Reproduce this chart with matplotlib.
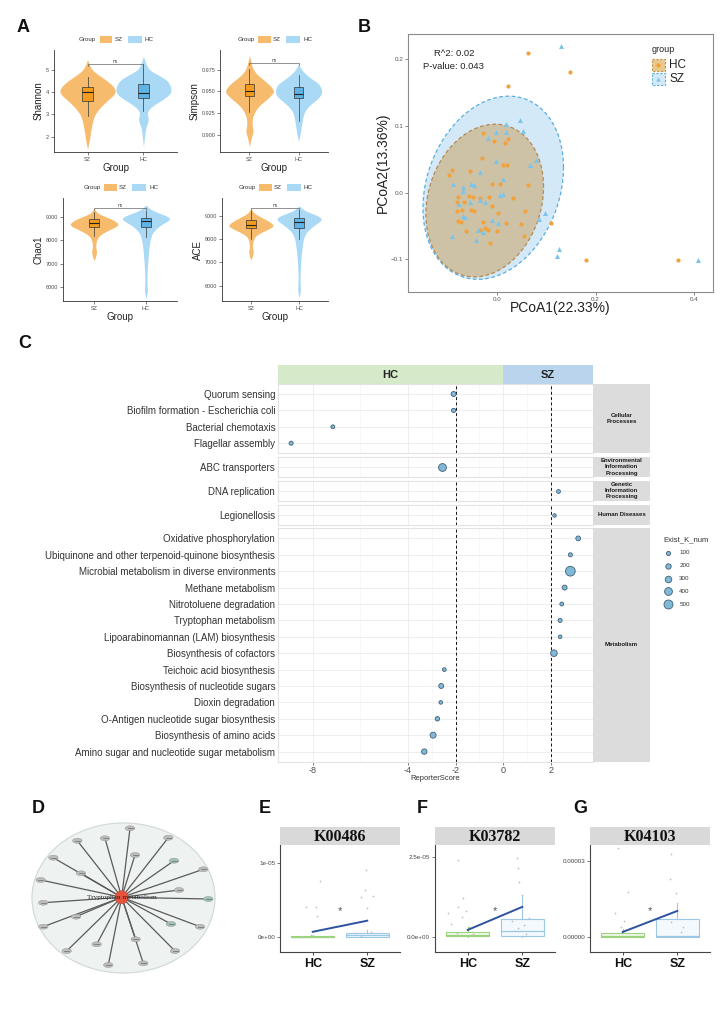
import numpy as np
import matplotlib
matplotlib.use('Agg')
import matplotlib.pyplot as plt
from matplotlib.patches import Rectangle, Ellipse

W, H = 727, 1029
SANS = ['Liberation Sans', 'DejaVu Sans']
NARROW = ['Liberation Sans Narrow', 'Liberation Sans', 'DejaVu Sans']
SERIF = ['Liberation Serif', 'DejaVu Serif']
plt.rcParams['font.family'] = SANS

# ---------------- A: alpha diversity (violin outline + box stats)
groups_a = ['SZ', 'HC']
shannon_sz_y = [1.45, 1.8, 2.3, 2.7, 3.0, 3.3, 3.6, 3.85, 4.05, 4.3, 4.55, 4.8, 5.0, 5.2, 5.45]
shannon_sz_w = [0.0, 0.03, 0.06, 0.09, 0.13, 0.22, 0.34, 0.46, 0.51, 0.45, 0.33, 0.18, 0.08, 0.04, 0.0]
shannon_hc_y = [1.55, 2.0, 2.4, 2.65, 2.85, 3.05, 3.25, 3.45, 3.65, 3.85, 4.05, 4.3, 4.55, 4.8, 5.0, 5.3, 5.6]
shannon_hc_w = [0.0, 0.02, 0.04, 0.08, 0.09, 0.06, 0.1, 0.2, 0.33, 0.45, 0.5, 0.48, 0.42, 0.25, 0.1, 0.04, 0.0]
simpson_sz_y = [0.887, 0.895, 0.905, 0.912, 0.92, 0.928, 0.935, 0.942, 0.950, 0.957, 0.964, 0.970, 0.977, 0.984, 0.991]
simpson_sz_w = [0.0, 0.03, 0.08, 0.05, 0.06, 0.12, 0.22, 0.38, 0.51, 0.42, 0.27, 0.14, 0.06, 0.03, 0.0]
simpson_hc_y = [0.893, 0.900, 0.907, 0.914, 0.921, 0.928, 0.935, 0.941, 0.947, 0.953, 0.959, 0.965, 0.971, 0.976, 0.981]
simpson_hc_w = [0.0, 0.03, 0.05, 0.07, 0.09, 0.13, 0.24, 0.38, 0.47, 0.47, 0.41, 0.25, 0.12, 0.05, 0.0]
chao1_sz_y = [7140, 7300, 7500, 7700, 7950, 8150, 8300, 8450, 8600, 8700, 8850, 9000, 9150, 9250, 9360]
chao1_sz_w = [0.0, 0.03, 0.05, 0.03, 0.04, 0.08, 0.17, 0.3, 0.45, 0.47, 0.38, 0.22, 0.06, 0.03, 0.0]
chao1_hc_y = [5550, 5800, 6000, 6300, 6700, 7200, 7700, 8000, 8300, 8500, 8700, 8850, 8950, 9100, 9250, 9470]
chao1_hc_w = [0.0, 0.03, 0.025, 0.02, 0.025, 0.04, 0.06, 0.08, 0.12, 0.2, 0.32, 0.46, 0.5, 0.32, 0.12, 0.0]
ace_sz_y = [7100, 7250, 7450, 7650, 7900, 8100, 8250, 8400, 8550, 8650, 8800, 8950, 9100, 9200, 9350]
ace_sz_w = [0.0, 0.03, 0.05, 0.03, 0.04, 0.08, 0.18, 0.34, 0.47, 0.45, 0.34, 0.2, 0.07, 0.03, 0.0]
ace_hc_y = [5500, 5750, 6000, 6300, 6700, 7200, 7600, 7900, 8200, 8400, 8600, 8800, 8900, 9050, 9200, 9400]
ace_hc_w = [0.0, 0.03, 0.025, 0.02, 0.025, 0.04, 0.06, 0.08, 0.12, 0.2, 0.32, 0.46, 0.5, 0.33, 0.12, 0.0]
# whislo, q1, median, q3, whishi
shannon_box = {'SZ': [2.95, 3.62, 4.0, 4.25, 4.7], 'HC': [3.15, 3.75, 3.97, 4.38, 5.25]}
simpson_box = {'SZ': [0.926, 0.9447, 0.950, 0.959, 0.976], 'HC': [0.916, 0.942, 0.9475, 0.9545, 0.969]}
chao1_box = {'SZ': [8170, 8550, 8720, 8890, 9210], 'HC': [8140, 8570, 8830, 8960, 9250]}
ace_box = {'SZ': [8000, 8460, 8600, 8815, 9200], 'HC': [8000, 8490, 8750, 8920, 9250]}
ns_height = [5.25, 0.983, 9380, 9350]

# ---------------- B: PCoA
hc_pc1 = [0.0623, 0.1469, 0.0217, -0.0291, -0.0074, 0.0217, 0.0149, -0.0305, -0.0914, -0.0562, -0.0995, 0.0115,
          0.0196, -0.0102, 0.0047, 0.0623, -0.0799, -0.0575, -0.0494, -0.0345, -0.0169, 0.0318, -0.0832, -0.0684,
          -0.0102, -0.0711, -0.0832, -0.0528, -0.0481, -0.0799, -0.0751, 0.002, 0.0555, -0.0291, -0.0257, -0.019,
          0.0183, 0.0487, 0.1096, -0.0643, -0.0359, -0.0007, 0.0535, -0.0156, 0.1807, 0.3668]
hc_pc2 = [0.2085, 0.181, 0.1595, 0.0885, 0.0775, 0.0795, 0.0745, 0.052, 0.0345, 0.0325, 0.026, 0.042,
          0.041, 0.0135, 0.0135, 0.011, -0.0065, -0.0055, -0.0065, -0.0075, -0.0065, -0.008, -0.014, -0.014,
          -0.02, -0.0265, -0.0275, -0.0255, -0.0275, -0.043, -0.044, -0.03, -0.0275, -0.044, -0.053, -0.0565,
          -0.0455, -0.0475, -0.0455, -0.0575, -0.0565, -0.058, -0.065, -0.075, -0.1015, -0.1005]
sz_pc1 = [0.13, 0.0453, 0.0183, -0.002, 0.0183, -0.019, 0.0521, -0.0359, -0.0034, 0.0115, -0.09, -0.0697,
          -0.0528, -0.0481, -0.0697, -0.0785, -0.0562, -0.0345, -0.0257, 0.0047, 0.0115, 0.0792, 0.0656, 0.0961,
          0.0839, -0.0697, -0.0663, 0.0014, -0.0102, -0.0393, -0.0291, -0.0914, -0.044, 0.1252, 0.1212, 0.4088]
sz_pc2 = [0.22, 0.1085, 0.1025, 0.091, 0.09, 0.081, 0.092, 0.0305, 0.0475, 0.02, 0.0135, 0.0085,
          0.0135, 0.012, 0.0025, -0.0165, -0.014, -0.0105, -0.014, -0.004, -0.0015, 0.0485, 0.041, -0.0305,
          -0.039, -0.0355, -0.0365, -0.0455, -0.0415, -0.0565, -0.059, -0.0655, -0.0705, -0.084, -0.0945, -0.1015]
# ellipse: centre x, centre y, sd x, sd y, correlation
hc_ellipse = [-0.0258, -0.012, 0.1198, 0.1144, 0.178]
sz_ellipse = [-0.0085, 0.0072, 0.1431, 0.1372, 0.22]

# ---------------- C: reporter score
pathways = ['Quorum sensing', 'Biofilm formation - Escherichia coli', 'Bacterial chemotaxis', 'Flagellar assembly',
            'ABC transporters', 'DNA replication', 'Legionellosis',
            'Oxidative phosphorylation', 'Ubiquinone and other terpenoid-quinone biosynthesis',
            'Microbial metabolism in diverse environments', 'Methane metabolism', 'Nitrotoluene degradation',
            'Tryptophan metabolism', 'Lipoarabinomannan (LAM) biosynthesis', 'Biosynthesis of cofactors',
            'Teichoic acid biosynthesis', 'Biosynthesis of nucleotide sugars', 'Dioxin degradation',
            'O-Antigen nucleotide sugar biosynthesis', 'Biosynthesis of amino acids',
            'Amino sugar and nucleotide sugar metabolism']
path_class = ['Cellular\nProcesses'] * 4 + ['Environmental\nInformation\nProcessing',
              'Genetic\nInformation\nProcessing', 'Human Diseases'] + ['Metabolism'] * 14
reporter_score = [-2.08, -2.08, -7.15, -8.9, -2.57, 2.31, 2.15, 3.15, 2.82, 2.82, 2.58, 2.46, 2.39, 2.39, 2.13,
                  -2.47, -2.6, -2.62, -2.76, -2.94, -3.31]
exist_k_num = [170, 100, 70, 90, 400, 70, 40, 150, 90, 560, 160, 70, 90, 50, 300, 60, 160, 50, 120, 250, 200]
class_order = ['Cellular\nProcesses', 'Environmental\nInformation\nProcessing', 'Genetic\nInformation\nProcessing',
               'Human Diseases', 'Metabolism']
k_legend = [100, 200, 300, 400, 500]

# ---------------- D: network layout (pixel positions)
hub_xy = (121.7, 897.3)
node_x = [130, 105, 77.3, 168.3, 53.3, 135, 174, 81, 203.3, 40.7, 179, 43.3, 208.3, 76, 171, 43.3, 200,
          135.7, 96.7, 66.7, 175, 108.3, 143.3]
node_y = [828.3, 838.3, 840.7, 837.7, 857.7, 855, 860.7, 873.3, 869.3, 880, 890, 902.7, 899, 916.7, 924, 926.7,
          926.7, 939.3, 944.3, 951, 951, 965, 963.3]
node_green = [6, 12, 14]

# ---------------- E-G: KO abundance (units of 1e-5)
k_genes = ['K00486', 'K03782', 'K04103']
k_hc_box = [[0.0, 0.0, 0.0, 0.01, 0.02], [0.0, 0.03, 0.06, 0.17, 0.32], [0.0, 0.0, 0.03, 0.15, 0.3]]
k_sz_box = [[0.0, 0.0, 0.02, 0.06, 0.1], [0.0, 0.03, 0.19, 0.55, 1.28], [0.0, 0.0, 0.04, 0.7, 1.33]]
k_hc_mean = [0.07, 0.22, 0.2]
k_sz_mean = [0.22, 0.94, 1.03]
k_star = [0.35, 0.81, 1.03]
k_ylim = [(-0.203, 1.243), (-0.47, 2.875), (-0.59, 3.63)]
k_yticks = [[0, 1], [0, 2.5], [0, 3]]
k_yticklabels = [['0e+00', '1e-05'], ['0.0e+00', '2.5e-05'], ['0.00000', '0.00003']]
k00486_hc_x = [0.88, 1.06, 1.13, 1.08, 0.82, 1.3, 0.97]
k00486_hc_y = [0.40, 0.40, 0.75, 0.28, 0.0, 0.01, 0.03]
k00486_sz_x = [1.98, 1.96, 1.89, 2.1, 1.99, 1.78, 2.07, 1.88]
k00486_sz_y = [0.91, 0.63, 0.54, 0.56, 0.39, 0.05, 0.07, 0.01]
k03782_hc_x = [0.82, 0.92, 0.63, 0.83, 0.9, 0.96, 0.7, 1.03, 0.8, 1.1]
k03782_hc_y = [2.40, 1.21, 0.74, 0.95, 0.63, 0.80, 0.4, 0.3, 0.12, 0.1]
k03782_sz_x = [1.91, 1.93, 1.94, 1.99, 2.04, 1.93, 2.07, 1.81, 2.13]
k03782_sz_y = [2.46, 2.15, 1.73, 1.31, 0.375, 0.27, 0.1, 0.5, 0.6]
k04103_hc_x = [0.91, 1.09, 0.85, 1.03, 0.97, 0.8]
k04103_hc_y = [3.5, 1.79, 0.94, 0.65, 0.4, 0.15]
k04103_sz_x = [1.88, 1.87, 1.97, 1.94, 2.06, 1.88, 2.1]
k04103_sz_y = [3.28, 2.28, 1.73, 0.97, 0.2, 0.6, 0.4]
k_points = [(k00486_hc_x, k00486_hc_y, k00486_sz_x, k00486_sz_y),
            (k03782_hc_x, k03782_hc_y, k03782_sz_x, k03782_sz_y),
            (k04103_hc_x, k04103_hc_y, k04103_sz_x, k04103_sz_y)]

SZ_VIOLIN, HC_VIOLIN = '#f7bb6e', '#aad9f5'
SZ_BOX, HC_BOX = '#f29b1f', '#5fb3e4'
PT_ORANGE, PT_BLUE = '#f2a23c', '#7cc4e8'

fig = plt.figure(figsize=(W / 100, H / 100), dpi=100)


def axes_px(x0, y0, x1, y1, **kw):
    return fig.add_axes([x0 / W, 1 - y1 / H, (x1 - x0) / W, (y1 - y0) / H], **kw)


def smooth_profile(y, w, n=240):
    yy = np.linspace(y[0], y[-1], n)
    ww = np.interp(yy, y, w)
    k = np.exp(-0.5 * (np.arange(-12, 13) / 5.0) ** 2)
    k /= k.sum()
    ww = np.convolve(np.pad(ww, 12, mode='edge'), k, mode='valid')
    return yy, ww


# ---------------- panel A
a_specs = [
    ('Shannon', (54, 50, 177, 152), (1.31, 5.9), [2, 3, 4, 5], ['2', '3', '4', '5'],
     (shannon_sz_y, shannon_sz_w), (shannon_hc_y, shannon_hc_w), shannon_box),
    ('Simpson', (220, 50, 328, 152), (0.8805, 0.9975), [0.9, 0.925, 0.95, 0.975], ['0.900', '0.925', '0.950', '0.975'],
     (simpson_sz_y, simpson_sz_w), (simpson_hc_y, simpson_hc_w), simpson_box),
    ('Chao1', (63, 198, 177, 301), (5420, 9790), [6000, 7000, 8000, 9000], ['6000', '7000', '8000', '9000'],
     (chao1_sz_y, chao1_sz_w), (chao1_hc_y, chao1_hc_w), chao1_box),
    ('ACE', (222, 198, 328, 301), (5340, 9760), [6000, 7000, 8000, 9000], ['6000', '7000', '8000', '9000'],
     (ace_sz_y, ace_sz_w), (ace_hc_y, ace_hc_w), ace_box),
]
a_axes = []
for i, (name, box, ylim, yt, ytl, prof_sz, prof_hc, stats) in enumerate(a_specs):
    ax = axes_px(*box)
    a_axes.append(ax)
    for pos, prof, col in [(1, prof_sz, SZ_VIOLIN), (2, prof_hc, HC_VIOLIN)]:
        yy, ww = smooth_profile(*prof)
        ax.fill_betweenx(yy, pos - ww, pos + ww, color=col, lw=0, zorder=1)
    for pos, g, col in [(1, 'SZ', SZ_BOX), (2, 'HC', HC_BOX)]:
        s = stats[g]
        bs = dict(whislo=s[0], q1=s[1], med=s[2], q3=s[3], whishi=s[4], fliers=[])
        ax.bxp([bs], positions=[pos], widths=0.2, patch_artist=True, showcaps=False, showfliers=False,
               boxprops=dict(facecolor=col, edgecolor='#333333', lw=0.5),
               medianprops=dict(color='#222222', lw=0.8),
               whiskerprops=dict(color='#333333', lw=0.5), zorder=3)
    b = ns_height[i]
    d = (ylim[1] - ylim[0]) * 0.02
    ax.plot([1, 1, 2, 2], [b - d, b, b, b - d], color='#666666', lw=0.5, zorder=4)
    ax.text(1.5, b, 'ns', ha='center', va='bottom', fontsize=3.5, color='#444444')
    ax.set_xlim(0.4, 2.6)
    ax.set_ylim(*ylim)
    ax.set_xticks([1, 2])
    ax.set_xticklabels(groups_a)
    ax.set_yticks(yt)
    ax.set_yticklabels(ytl)
    ax.tick_params(labelsize=4, colors='#4d4d4d', length=2, width=0.5, pad=1.5)
    for sp in ['top', 'right']:
        ax.spines[sp].set_visible(False)
    for sp in ['left', 'bottom']:
        ax.spines[sp].set_color('#333333')
        ax.spines[sp].set_linewidth(0.6)
    ax.set_ylabel(name, fontsize=7, labelpad=1.5, color='#222222')
    ax.set_xlabel('Group', fontsize=7, labelpad=1, color='#222222')
    ax.patch.set_alpha(0)

# ---------------- panel B
axb = axes_px(408, 34, 713, 292)
t = np.linspace(0, 2 * np.pi, 300)
for ell, fc, fa, ec in [(sz_ellipse, '#d3e9f8', 1.0, '#5aaee0'), (hc_ellipse, '#c89a55', 0.5, '#b48a50')]:
    cx, cy, sx, sy, r = ell
    ex = cx + sx * np.cos(t)
    ey = cy + sy * (r * np.cos(t) + np.sqrt(1 - r ** 2) * np.sin(t))
    axb.fill(ex, ey, color=fc, alpha=fa, lw=0, zorder=1)
    axb.plot(ex, ey, color=ec, lw=0.9, ls=(0, (3, 2)), zorder=2)
axb.scatter(hc_pc1, hc_pc2, s=9, color=PT_ORANGE, lw=0, zorder=3)
axb.scatter(sz_pc1, sz_pc2, s=13, marker='^', color=PT_BLUE, lw=0, zorder=3)
axb.set_xlim(-0.182, 0.439)
axb.set_ylim(-0.149, 0.2375)
axb.set_xticks([0.0, 0.2, 0.4])
axb.set_yticks([-0.1, 0.0, 0.1, 0.2])
axb.tick_params(labelsize=4.5, colors='#555555', length=2, width=0.5, pad=1.5)
for sp in axb.spines.values():
    sp.set_color('#8c8c8c')
    sp.set_linewidth(0.8)
axb.text(0.15, 0.925, 'R^2: 0.02', transform=axb.transAxes, ha='center', va='center', fontsize=6.8, color='#222222')
axb.text(0.15, 0.875, 'P-value: 0.043', transform=axb.transAxes, ha='center', va='center', fontsize=6.8,
         color='#222222')

# ---------------- panel C
row_h = 16.4
x0c, x1c = 278, 593
xlim_c = (-9.45, 3.77)
hdr = axes_px(x0c, 365, x1c, 384)
hdr.set_xlim(*xlim_c)
hdr.set_ylim(0, 1)
hdr.axvspan(xlim_c[0], 0, color='#d6e9c9', lw=0)
hdr.axvspan(0, xlim_c[1], color='#b9d4ec', lw=0)
hdr.text((xlim_c[0] + 0) / 2, 0.5, 'HC', ha='center', va='center', fontsize=8, fontweight='bold',
         color='#222222', family=NARROW)
hdr.text((0 + xlim_c[1]) / 2, 0.5, 'SZ', ha='center', va='center', fontsize=8, fontweight='bold',
         color='#222222', family=NARROW)
hdr.axis('off')


def ksize(v):
    return ((3.0 + 0.012 * v) * 0.72) ** 2


y = 384.0
for ci, cls in enumerate(class_order):
    idx = [i for i, c in enumerate(path_class) if c == cls]
    n = len(idx)
    h = (n - 1) * row_h + 20
    ax = axes_px(x0c, y, x1c, y + h)
    ax.set_xlim(*xlim_c)
    ax.set_ylim(n - 1 + 0.61, -0.61)
    ax.set_xticks([-8, -4, -2, 0, 2])
    ax.set_xticks([-6, -3, -1, 1], minor=True)
    ax.grid(which='major', color='#ebebeb', lw=0.6)
    ax.grid(which='minor', axis='x', color='#f3f3f3', lw=0.4)
    ax.set_axisbelow(True)
    for xv in (-2, 2):
        ax.axvline(xv, color='#111111', lw=0.7, ls=(0, (3, 2.5)), zorder=2)
    ax.scatter([reporter_score[i] for i in idx], list(range(n)), s=[ksize(exist_k_num[i]) for i in idx],
               color='#80b8d8', edgecolor='#3f6076', lw=0.6, zorder=3)
    ax.set_yticks(list(range(n)))
    ax.set_yticklabels([pathways[i] for i in idx], fontsize=7, family=NARROW, color='#333333')
    ax.tick_params(axis='y', length=0, pad=2)
    ax.tick_params(axis='x', which='both', length=0)
    if ci == len(class_order) - 1:
        ax.set_xticklabels(['-8', '-4', '-2', '0', '2'])
        ax.tick_params(axis='x', which='major', length=2, width=0.5, colors='#4d4d4d', labelsize=6.5, pad=1.5)
    else:
        ax.tick_params(axis='x', labelbottom=False)
    for sp in ax.spines.values():
        sp.set_color('#e3e3e3')
        sp.set_linewidth(0.8)
    st = axes_px(x1c, y, 650, y + h)
    st.set_facecolor('#dcdcdc')
    st.set_xticks([])
    st.set_yticks([])
    for sp in st.spines.values():
        sp.set_visible(False)
    st.text(0.5, 0.5, cls, ha='center', va='center', fontsize=4.3, fontweight='bold', color='#1a1a1a',
            linespacing=1.25)
    y += h + 3.8

# ---------------- panels E-G
k_boxes = [(280, 400), (435, 555), (590, 710)]
for gi, gene in enumerate(k_genes):
    xa, xb = k_boxes[gi]
    ax = axes_px(xa, 845, xb, 952)
    sc = 1e-5
    for pos, s, ec, fc in [(1, k_hc_box[gi], '#9bd27e', '#f1f9ec'), (2, k_sz_box[gi], '#9cc8e6', '#f4f9fd')]:
        bs = dict(whislo=s[0] * sc, q1=s[1] * sc, med=s[2] * sc, q3=s[3] * sc, whishi=s[4] * sc, fliers=[])
        ax.bxp([bs], positions=[pos], widths=0.78, patch_artist=True, showcaps=False, showfliers=False,
               boxprops=dict(facecolor=fc, edgecolor=ec, lw=0.8),
               medianprops=dict(color=ec, lw=0.9),
               whiskerprops=dict(color=ec, lw=0.8), zorder=2)
    hx, hy, sx_, sy_ = k_points[gi]
    ax.scatter(hx, np.array(hy) * sc, s=1.6, color='#b8c9b0', lw=0, zorder=3)
    ax.scatter(sx_, np.array(sy_) * sc, s=1.6, color='#b0c4d6', lw=0, zorder=3)
    ax.plot([1, 2], [k_hc_mean[gi] * sc, k_sz_mean[gi] * sc], color='#2c52a0', lw=1.4, zorder=4)
    ax.text(1.5, k_star[gi] * sc, '*', ha='center', va='center', fontsize=8, color='#555555', zorder=5)
    ax.set_xlim(0.4, 2.6)
    ax.set_ylim(k_ylim[gi][0] * sc, k_ylim[gi][1] * sc)
    ax.set_yticks([v * sc for v in k_yticks[gi]])
    ax.set_yticklabels(k_yticklabels[gi])
    ax.set_xticks([1, 2])
    ax.set_xticklabels(['HC', 'SZ'], fontsize=9, fontweight='bold', color='#111111')
    ax.tick_params(axis='y', labelsize=4.5, colors='#444444', length=2, width=0.5, pad=1.5)
    ax.tick_params(axis='x', length=2, width=0.5, pad=2)
    for sp in ['top', 'right']:
        ax.spines[sp].set_visible(False)
    for sp in ['left', 'bottom']:
        ax.spines[sp].set_color('#444444')
        ax.spines[sp].set_linewidth(0.8)
    ax.patch.set_alpha(0)
    st = axes_px(xa, 827, xb, 845)
    st.set_facecolor('#d9d9d9')
    st.set_xticks([])
    st.set_yticks([])
    for sp in st.spines.values():
        sp.set_visible(False)
    st.text(0.5, 0.45, gene, ha='center', va='center', fontsize=11.5, fontweight='bold', family=SERIF,
            color='#111111')

# ---------------- overlay in pixel coordinates: letters, legends, network
ov = fig.add_axes([0, 0, 1, 1], zorder=10)
ov.set_xlim(0, W)
ov.set_ylim(H, 0)
ov.axis('off')

for letter, lx, ly in [('A', 16.7, 31.7), ('B', 357.3, 31.7), ('C', 18, 348), ('D', 31.7, 813.3),
                       ('E', 258.3, 813.3), ('F', 416.7, 813.3), ('G', 573.3, 813.3)]:
    ov.text(lx, ly, letter, fontsize=13, fontweight='bold', va='baseline', ha='left', color='#111111')

# A legends
for ax, (name, box, *_rest) in zip(a_axes, a_specs):
    cx = (box[0] + box[2]) / 2
    cy = box[1] - 10.5
    ov.text(cx - 28, cy, 'Group', fontsize=4.5, ha='center', va='center', color='#333333')
    ov.add_patch(Rectangle((cx - 16, cy - 3.8), 12.5, 7.6, fc=SZ_VIOLIN, ec='none'))
    ov.text(cx - 1, cy, 'SZ', fontsize=4.5, ha='left', va='center', color='#333333')
    ov.add_patch(Rectangle((cx + 12, cy - 3.8), 14, 7.6, fc=HC_VIOLIN, ec='none'))
    ov.text(cx + 29, cy, 'HC', fontsize=4.5, ha='left', va='center', color='#333333')

# B legend and axis labels
ov.text(651.7, 49.5, 'group', fontsize=6.5, ha='left', va='center', color='#222222')
for (ky, lab, fc, fa, ec, mk, mc) in [(58.5, 'HC', '#e6c98f', 1.0, '#c9944a', 'o', PT_ORANGE),
                                      (72.8, 'SZ', '#d3e9f8', 1.0, '#5aaee0', '^', PT_BLUE)]:
    ov.add_patch(Rectangle((651.5, ky), 13.5, 12.5, fc=fc, ec=ec, lw=0.8, ls=(0, (2, 1.5))))
    ov.scatter([658.2], [ky + 6.2], s=10, marker=mk, color=mc, lw=0)
    ov.text(669, ky + 6.5, lab, fontsize=8.5, ha='left', va='center', color='#222222')
ov.text(560.5, 308, 'PCoA1(22.33%)', fontsize=10, ha='center', va='center', color='#222222')
ov.text(383.3, 163, 'PCoA2(13.36%)', fontsize=10, ha='center', va='center', rotation=90, color='#222222')

# C legend and x label
ov.text(435.5, 779, 'ReporterScore', fontsize=5.5, ha='center', va='center', color='#333333')
ov.text(663.5, 540, 'Exist_K_num', fontsize=5.5, ha='left', va='center', color='#333333', family=NARROW)
for j, kv in enumerate(k_legend):
    yy = 553 + j * 12.8
    ov.scatter([668], [yy], s=ksize(kv), color='#80b8d8', edgecolor='#3f6076', lw=0.6)
    ov.text(684.5, yy, str(kv), fontsize=4.5, ha='center', va='center', color='#333333')

# D network
ov.add_patch(Ellipse((123.5, 898), 183, 150, fc='#eef3f1', ec='#d3dbd8', lw=0.9, zorder=1))
for j in range(len(node_x)):
    ov.plot([hub_xy[0], node_x[j]], [hub_xy[1], node_y[j]], color='#5a5a5a', lw=0.9, zorder=2)
for j in range(len(node_x)):
    fc = '#9fc2b3' if j in node_green else '#bcbcbc'
    ov.add_patch(Ellipse((node_x[j], node_y[j]), 9.5, 5, fc=fc, ec='#8f8f8f', lw=0.3, zorder=3))
    ov.plot([node_x[j] - 2.5, node_x[j] + 2.5], [node_y[j], node_y[j]], color='#6a6a6a', lw=0.5, zorder=4)
ov.add_patch(Ellipse(hub_xy, 13, 13, fc='#e6533d', ec='#c94a36', lw=0.4, zorder=5))
ov.text(hub_xy[0], hub_xy[1], 'Tryptophan metabolism', fontsize=5.2, family=SERIF, ha='center', va='center',
        color='#222222', zorder=6)

fig.savefig('out.png', dpi=100)
